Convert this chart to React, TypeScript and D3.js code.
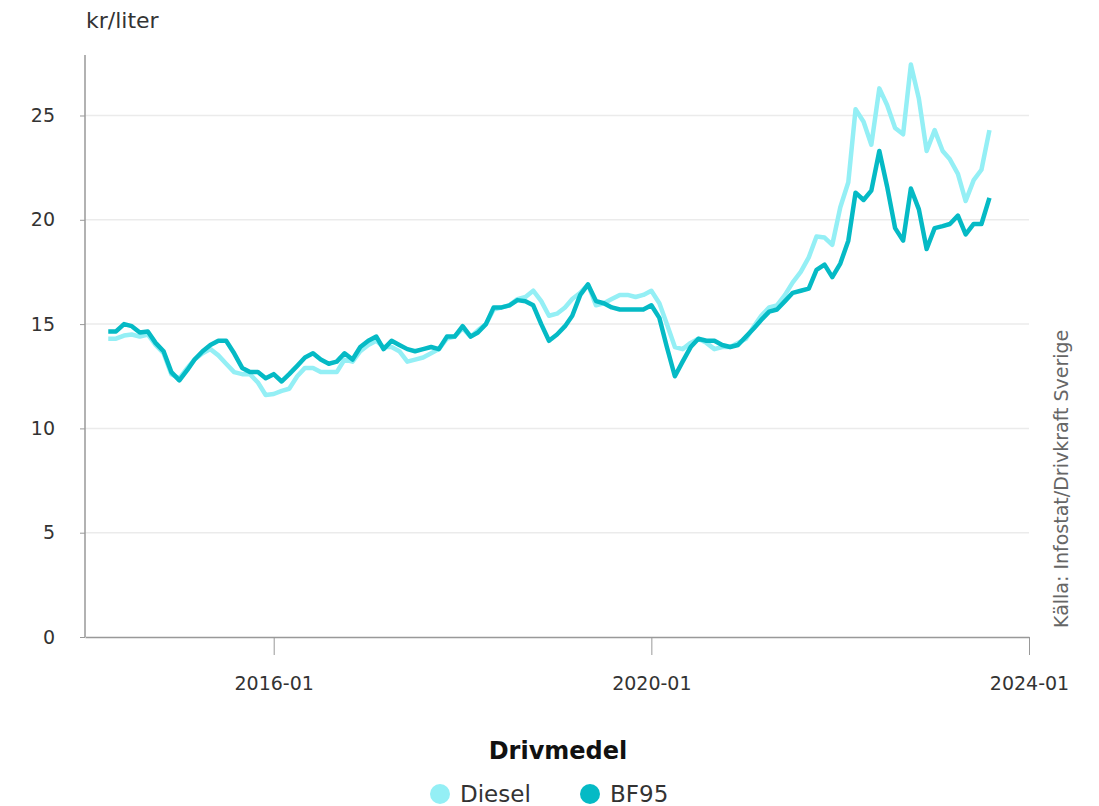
import * as d3 from "d3";
import React, { useEffect, useRef } from "react";

// Monthly pump prices, kr/liter, from 2014-04 to 2023-08
const startMonth = "2014-04";
const xTickLabels = ["2016-01", "2020-01", "2024-01"];
const yTickValues = [0, 5, 10, 15, 20, 25];
const seriesNames = ["Diesel", "BF95"];
const seriesColors = ["#94eff5", "#05bac5"];

const dieselValues = [
  // 2014
  14.3, 14.3, 14.45, 14.5, 14.4, 14.5, 14.0, 13.6, 12.6,
  // 2015
  12.4, 12.9, 13.3, 13.6, 13.8, 13.5, 13.1, 12.7, 12.6, 12.6, 12.2, 11.6,
  // 2016
  11.65, 11.8, 11.9, 12.5, 12.9, 12.9, 12.7, 12.7, 12.7, 13.3, 13.2, 13.7,
  // 2017
  14.0, 14.2, 13.9, 13.9, 13.7, 13.2, 13.3, 13.4, 13.6, 13.8, 14.3, 14.4,
  // 2018
  14.8, 14.4, 14.7, 15.0, 15.7, 15.8, 15.9, 16.2, 16.3, 16.6, 16.1, 15.4,
  // 2019
  15.5, 15.8, 16.2, 16.5, 16.9, 15.9, 16.0, 16.2, 16.4, 16.4, 16.3, 16.4,
  // 2020
  16.6, 16.0, 15.0, 13.9, 13.8, 14.1, 14.3, 14.1, 13.8, 13.9, 13.9, 14.1,
  // 2021
  14.3, 14.9, 15.4, 15.8, 15.9, 16.4, 17.0, 17.5, 18.2, 19.2, 19.15, 18.8,
  // 2022
  20.6, 21.8, 25.3, 24.7, 23.6, 26.3, 25.5, 24.4, 24.1, 27.45, 25.8, 23.3,
  // 2023
  24.3, 23.3, 22.9, 22.2, 20.9, 21.9, 22.4, 24.3,
];

const bf95Values = [
  // 2014
  14.65, 14.65, 15.0, 14.9, 14.6, 14.65, 14.1, 13.7, 12.7,
  // 2015
  12.3, 12.8, 13.3, 13.7, 14.0, 14.2, 14.2, 13.6, 12.9, 12.7, 12.7, 12.4,
  // 2016
  12.6, 12.25, 12.6, 13.0, 13.4, 13.6, 13.3, 13.1, 13.2, 13.6, 13.3, 13.9,
  // 2017
  14.2, 14.4, 13.8, 14.2, 14.0, 13.8, 13.7, 13.8, 13.9, 13.8, 14.4, 14.4,
  // 2018
  14.9, 14.4, 14.6, 15.0, 15.8, 15.8, 15.9, 16.15, 16.1, 15.9, 15.0, 14.2,
  // 2019
  14.5, 14.9, 15.4, 16.4, 16.9, 16.1, 16.0, 15.8, 15.7, 15.7, 15.7, 15.7,
  // 2020
  15.9, 15.3, 13.9, 12.5, 13.2, 13.9, 14.3, 14.2, 14.2, 14.0, 13.9, 14.0,
  // 2021
  14.4, 14.8, 15.2, 15.6, 15.7, 16.1, 16.5, 16.6, 16.7, 17.6, 17.85, 17.25,
  // 2022
  17.9, 19.0, 21.3, 20.95, 21.4, 23.3, 21.6, 19.6, 19.0, 21.5, 20.5, 18.6,
  // 2023
  19.6, 19.7, 19.8, 20.2, 19.3, 19.8, 19.8, 21.05,
];

const WIDTH = 1099;
const HEIGHT = 806;
const FONT = "'DejaVu Sans', Verdana, sans-serif";

const FuelChart: React.FC = () => {
  const svgRef = useRef<SVGSVGElement>(null);

  useEffect(() => {
    if (!svgRef.current) return;
    const parse = d3.utcParse("%Y-%m");
    const start = parse(startMonth) as Date;
    const series = [dieselValues, bf95Values].map((values, k) => ({
      name: seriesNames[k],
      color: seriesColors[k],
      points: values.map((v, i) => ({ date: d3.utcMonth.offset(start, i), value: v })),
    }));

    const plot = { left: 85, right: 1029, top: 55, bottom: 637 };

    const svg = d3.select(svgRef.current);
    svg.selectAll("*").remove();
    svg.attr("width", WIDTH).attr("height", HEIGHT).style("font-family", FONT);

    const x = d3
      .scaleUtc()
      .domain([parse("2014-01") as Date, parse("2024-01") as Date])
      .range([plot.left, plot.right]);
    const y = d3.scaleLinear().domain([0, 27.9]).range([plot.bottom, plot.top]);

    // grid
    svg
      .append("g")
      .selectAll("line")
      .data(yTickValues.filter((d) => d > 0))
      .join("line")
      .attr("x1", plot.left)
      .attr("x2", plot.right)
      .attr("y1", (d) => y(d))
      .attr("y2", (d) => y(d))
      .attr("stroke", "#ebebeb")
      .attr("stroke-width", 1.5);

    // y axis
    const yAxis = svg
      .append("g")
      .attr("transform", `translate(${plot.left},0)`)
      .call(d3.axisLeft(y).tickValues(yTickValues).tickSize(5).tickPadding(25));
    yAxis.select(".domain").remove();
    yAxis.selectAll(".tick line").attr("stroke", "#999");
    yAxis
      .selectAll(".tick text")
      .attr("fill", "#333")
      .style("font-size", "19px")
      .style("font-family", FONT);
    svg
      .append("line")
      .attr("x1", plot.left)
      .attr("x2", plot.left)
      .attr("y1", plot.top)
      .attr("y2", plot.bottom)
      .attr("stroke", "#999")
      .attr("stroke-width", 1.5);

    // x axis
    const xAxis = svg
      .append("g")
      .attr("transform", `translate(0,${plot.bottom})`)
      .call(
        d3
          .axisBottom(x)
          .tickValues(xTickLabels.map((s) => parse(s) as Date))
          .tickSize(18)
          .tickSizeOuter(0)
          .tickPadding(22)
          .tickFormat((d) => d3.utcFormat("%Y-%m")(d as Date)),
      );
    xAxis.select(".domain").attr("stroke", "#999").attr("stroke-width", 1.5);
    xAxis.selectAll(".tick line").attr("stroke", "#999");
    xAxis
      .selectAll(".tick text")
      .attr("fill", "#333")
      .style("font-size", "19px")
      .style("font-family", FONT);

    // lines
    const line = d3
      .line<{ date: Date; value: number }>()
      .x((d) => x(d.date))
      .y((d) => y(d.value));

    svg
      .append("g")
      .selectAll("path")
      .data(series)
      .join("path")
      .attr("fill", "none")
      .attr("stroke", (d) => d.color)
      .attr("stroke-width", 4.5)
      .attr("stroke-linejoin", "round")
      .attr("d", (d) => line(d.points) || "");

    // unit label
    svg
      .append("text")
      .attr("x", 86)
      .attr("y", 28)
      .attr("fill", "#333")
      .style("font-size", "22px")
      .text("kr/liter");

    // source
    svg
      .append("text")
      .attr("transform", `translate(1068,628) rotate(-90)`)
      .attr("fill", "#666")
      .style("font-size", "19px")
      .text("Källa: Infostat/Drivkraft Sverige");

    // legend
    svg
      .append("text")
      .attr("x", 558)
      .attr("y", 759)
      .attr("text-anchor", "middle")
      .attr("fill", "#111")
      .style("font-size", "24px")
      .style("font-weight", "bold")
      .text("Drivmedel");

    const legendX = [440, 590];
    const legend = svg
      .append("g")
      .selectAll("g")
      .data(series)
      .join("g")
      .attr("transform", (d, i) => `translate(${legendX[i]},794)`);
    legend
      .append("circle")
      .attr("r", 10)
      .attr("fill", (d) => d.color);
    legend
      .append("text")
      .attr("x", 20)
      .attr("dy", "0.36em")
      .attr("fill", "#333")
      .style("font-size", "23px")
      .text((d) => d.name);
  }, []);

  return <svg ref={svgRef} style={{ position: "absolute", left: 0, top: 0 }} />;
};

export default function App() {
  return <FuelChart />;
}
